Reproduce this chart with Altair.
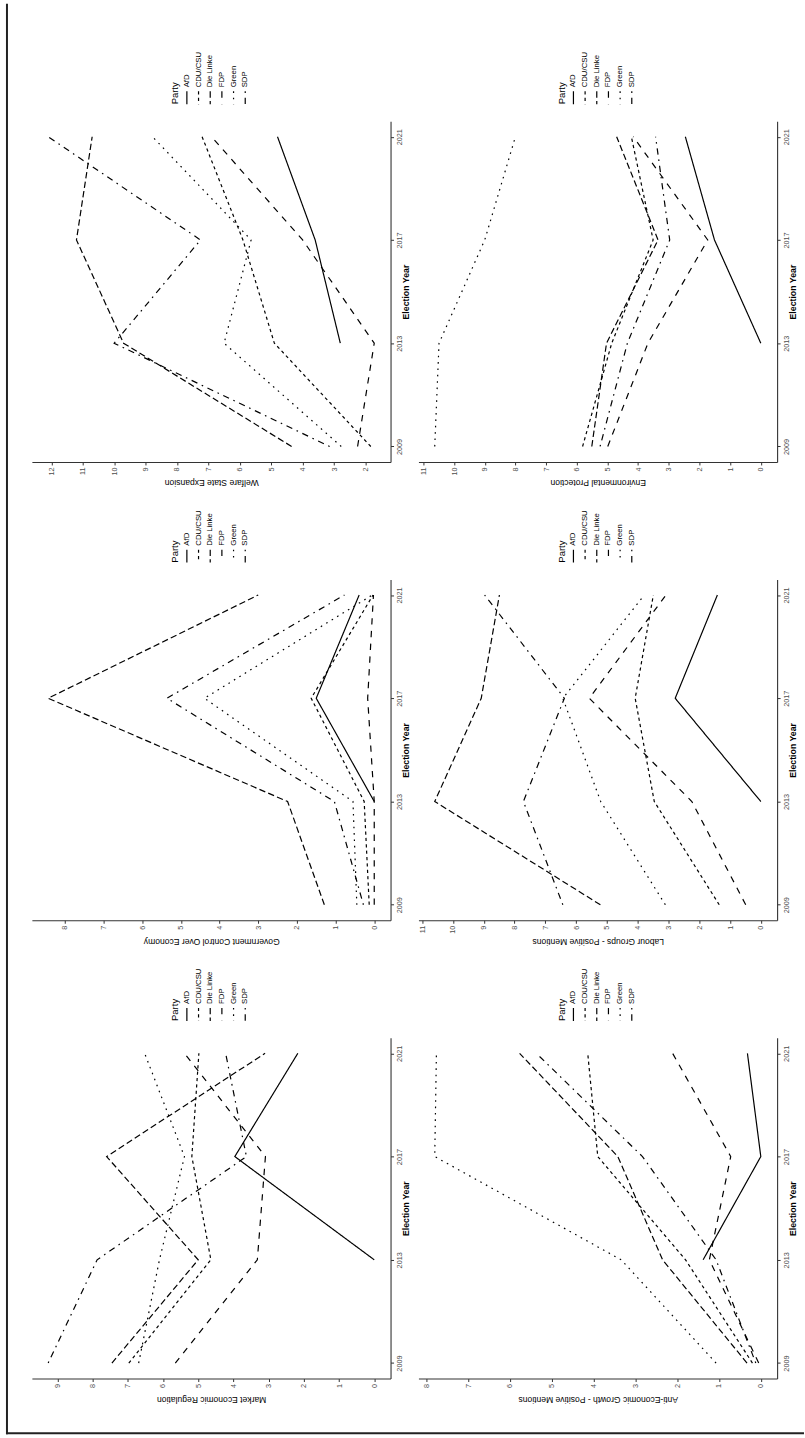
import math
import altair as alt
import pandas as pd

FONT = "Liberation Sans"

years = [2009, 2013, 2017, 2021]
parties = ["AfD", "CDU/CSU", "Die Linke", "FDP", "Green", "SDP"]

# values per party for 2009, 2013, 2017, 2021 (None = not present)
welfare = {
    "AfD": [None, 2.8, 3.6, 4.8],
    "CDU/CSU": [1.83, 4.9, 5.9, 7.2],
    "Die Linke": [4.35, 9.7, 11.2, 10.7],
    "FDP": [2.25, 1.72, 4.0, 6.9],
    "Green": [2.77, 6.5, 5.64, 8.78],
    "SDP": [3.14, 10.0, 7.25, 12.1],
}
government = {
    "AfD": [None, 0.0, 1.5, 0.39],
    "CDU/CSU": [0.13, 0.26, 1.63, 0.03],
    "Die Linke": [1.29, 2.24, 8.43, 3.0],
    "FDP": [0.0, 0.0, 0.17, 0.02],
    "Green": [0.45, 0.55, 4.39, 0.05],
    "SDP": [0.28, 1.03, 5.36, 0.77],
}
market = {
    "AfD": [None, 0.0, 3.96, 2.17],
    "CDU/CSU": [6.97, 4.64, 5.18, 4.98],
    "Die Linke": [7.45, 5.0, 7.6, 3.1],
    "FDP": [5.65, 3.32, 3.09, 5.39],
    "Green": [6.69, 6.1, 5.39, 6.52],
    "SDP": [9.26, 7.87, 3.63, 4.22],
}
environment = {
    "AfD": [None, 0.0, 1.51, 2.46],
    "CDU/CSU": [5.81, 4.86, 3.51, 4.22],
    "Die Linke": [5.51, 5.03, 3.35, 4.70],
    "FDP": [4.99, 3.68, 1.73, 4.16],
    "Green": [10.63, 10.49, 9.0, 8.0],
    "SDP": [5.24, 4.35, 2.97, 3.43],
}
labour = {
    "AfD": [None, 0.0, 2.78, 1.41],
    "CDU/CSU": [1.35, 3.46, 4.08, 3.49],
    "Die Linke": [5.21, 10.59, 9.08, 8.49],
    "FDP": [0.49, 2.24, 5.57, 3.08],
    "Green": [3.10, 5.2, 6.43, 3.78],
    "SDP": [6.43, 7.71, 6.38, 8.97],
}
antigrowth = {
    "AfD": [None, 1.38, 0.0, 0.32],
    "CDU/CSU": [0.2, 1.8, 3.9, 4.14],
    "Die Linke": [0.33, 2.35, 3.42, 5.77],
    "FDP": [0.05, 1.23, 0.72, 2.11],
    "Green": [1.07, 3.34, 7.8, 7.76],
    "SDP": [0.12, 1.07, 2.83, 5.37],
}

titles = {
    "welfare": "Welfare State Expansion",
    "government": "Government Control Over Economy",
    "market": "Market Economic Regulation",
    "environment": "Environmental Protection",
    "labour": "Labour Groups - Positive Mentions",
    "antigrowth": "Anti-Economic Growth - Positive Mentions",
}

L = 1.6
dashes = [[1, 0], [2 * L, 2 * L], [4 * L, 2 * L], [4 * L, 4 * L], [1 * L, 3 * L],
          [1 * L, 3 * L, 4 * L, 3 * L]]
dash_scale = alt.Scale(domain=parties, range=dashes)

PW, PH, LH = 360, 342, 118


def panel(values, title):
    rows = []
    for p in parties:
        for yr, v in zip(years, values[p]):
            if v is not None:
                rows.append({"Party": p, "Year": yr, "Value": v})
    df = pd.DataFrame(rows)
    vmin, vmax = df["Value"].min(), df["Value"].max()
    pad = 0.05 * (vmax - vmin)
    lo, hi = vmin - pad, vmax + pad
    ticks = list(range(math.ceil(lo), math.floor(hi) + 1))
    return alt.Chart(df).mark_line(color="black", strokeWidth=1.2, strokeCap="butt").encode(
        x=alt.X("Value:Q",
                scale=alt.Scale(domain=[lo, hi], reverse=True, nice=False, zero=False),
                axis=alt.Axis(values=ticks, orient="bottom", grid=False, labelAngle=270,
                              labelAlign="right", labelBaseline="middle", labelPadding=2,
                              labelFontSize=7.3, labelColor="#4D4D4D", labelFont=FONT,
                              tickSize=3, tickColor="#333333", domainColor="#333333",
                              domainWidth=1.1, tickWidth=1, labelFlush=False,
                              title=title, titleAngle=180, titleY=21,
                              titleBaseline="middle", titleAlign="center",
                              titleFontSize=8.6, titleFontWeight="normal",
                              titleColor="black", titleFont=FONT)),
        y=alt.Y("Year:Q",
                scale=alt.Scale(domain=[2008.4, 2021.6], nice=False, zero=False),
                axis=alt.Axis(values=years, format="d", orient="right", grid=False,
                              labelAngle=270, labelAlign="center", labelBaseline="top",
                              labelPadding=2, labelFontSize=7.3, labelColor="#4D4D4D",
                              labelFont=FONT, tickSize=3, tickColor="#333333",
                              domainColor="#333333", domainWidth=1.1, labelFlush=False,
                              title="Election Year", titleAngle=270, titleX=15,
                              titleY=PH / 2, titleBaseline="middle", titleAlign="center",
                              titleFontSize=8.8, titleFontWeight="bold",
                              titleColor="black", titleFont=FONT)),
        strokeDash=alt.StrokeDash("Party:N", scale=dash_scale, legend=None),
        detail="Party:N",
        order=alt.Order("Year:Q"),
    ).properties(width=PW, height=PH)


def legend():
    keys_df = pd.DataFrame({"Party": parties})
    title_df = pd.DataFrame({"Party": ["Party"]})
    xs = alt.X("Party:N", scale=alt.Scale(type="point", domain=["Party"] + parties,
                                          range=[138, 220]), axis=None)
    keys = alt.Chart(keys_df).mark_rule(color="black", strokeWidth=1.2, strokeCap="butt").encode(
        x=xs, y=alt.value(88), y2=alt.value(101),
        strokeDash=alt.StrokeDash("Party:N", scale=dash_scale, legend=None))
    labels = alt.Chart(keys_df).mark_text(angle=270, align="left", baseline="middle",
                                          fontSize=7.8, font=FONT, color="black").encode(
        x=xs, y=alt.value(84), text="Party:N")
    ttl = alt.Chart(title_df).mark_text(angle=270, align="center", baseline="middle",
                                        fontSize=9.5, font=FONT, color="black").encode(
        x=xs, y=alt.value(90), text="Party:N")
    return alt.layer(keys, labels, ttl).properties(width=PW, height=LH)


grid = alt.concat(
    legend(), legend(),
    panel(welfare, titles["welfare"]), panel(environment, titles["environment"]),
    legend(), legend(),
    panel(government, titles["government"]), panel(labour, titles["labour"]),
    legend(), legend(),
    panel(market, titles["market"]), panel(antigrowth, titles["antigrowth"]),
    columns=2, spacing={"row": 0, "column": 28}, bounds="flush")

frame_df = pd.DataFrame({"k": [0]})
frame = alt.layer(
    alt.Chart(frame_df).mark_rule(color="#222222", strokeWidth=2).encode(
        x=alt.value(0), y=alt.value(0), y2=alt.value(1436)),
    alt.Chart(frame_df).mark_rule(color="#222222", strokeWidth=2).encode(
        x=alt.value(-1), x2=alt.value(800), y=alt.value(1435)),
).properties(width=1, height=1436)

chart = alt.hconcat(frame, grid, spacing=24, bounds="flush").properties(
    padding={"left": 5, "top": 0, "right": 0, "bottom": 0}
).configure_view(strokeWidth=0)

chart.save("out.html", embed_options={"renderer": "svg", "actions": False})
